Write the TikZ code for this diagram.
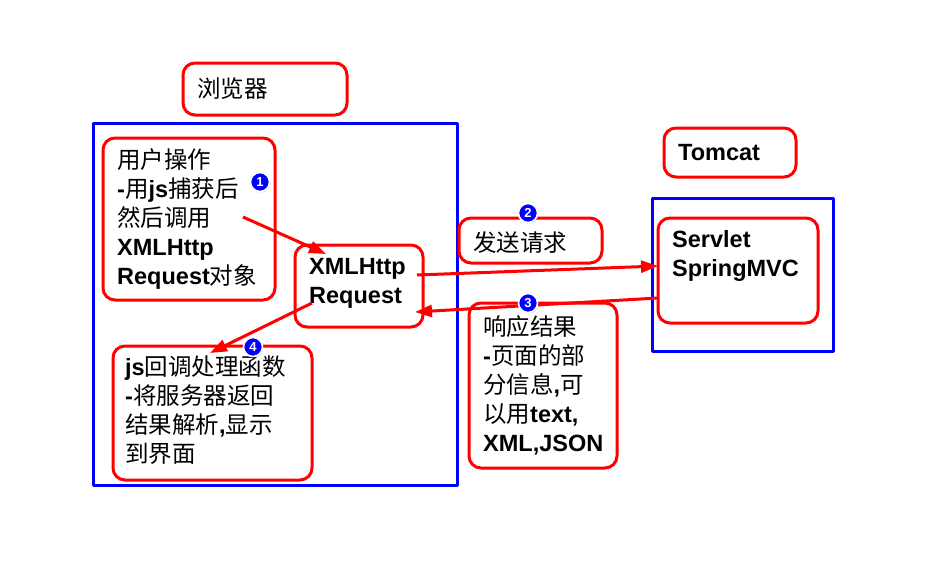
\documentclass[tikz,border=0pt]{standalone}
\usepackage{fontspec}
\setmainfont{Liberation Sans}
\newfontfamily\cjk{Noto Sans CJK SC}
\usetikzlibrary{arrows.meta,shadows}
\definecolor{AjaxRed}{RGB}{255,0,0}
\definecolor{AjaxBlue}{RGB}{0,0,255}
\newcommand\zh[1]{{\cjk\mdseries #1}}
\tikzset{
    ajax/diagram/.style={
        x=1pt, y=-1pt,
        font=\fontsize{23.5}{29}\selectfont\bfseries,
        line join=round
    },
    ajax/frame/.style={
        draw=AjaxBlue, line width=3pt, anchor=north west,
        inner sep=0pt, outer sep=0pt
    },
    ajax/box/.style={
        draw=AjaxRed, line width=3pt, rounded corners=12pt,
        anchor=north west, inner sep=0pt, outer sep=0pt
    },
    % first line is given a fixed height of 22pt: place at baseline - 22
    ajax/text/.style={
        anchor=north west, inner sep=0pt, align=left,
        execute at begin node={\rule{0pt}{22pt}}
    },
    ajax/flow/.style={
        draw=AjaxRed, line width=3pt,
        -{Triangle[length=17pt, width=12pt]}
    },
    ajax/badge/.style={
        circle, fill=AjaxBlue, draw=white, line width=1.6pt,
        minimum size=19pt, inner sep=0pt, text=white,
        font=\fontsize{13}{13}\selectfont\bfseries,
        drop shadow={shadow xshift=1pt, shadow yshift=-1pt, opacity=0.35}
    }
}

\begin{document}
\begin{tikzpicture}[ajax/diagram]
    \useasboundingbox (0,0) rectangle (944,584);
    % browser side
    \node[ajax/box, minimum width=164pt, minimum height=52pt] (browserTitle) at (183,63) {};
    \node[ajax/text] (browserText) at (197,75) {\zh{浏览器}};
    \node[ajax/frame, minimum width=364pt, minimum height=362pt] (browser) at (93,123) {};
    \node[ajax/box, minimum width=172pt, minimum height=162pt] (user) at (103,138) {};
    \node[ajax/text] (userText) at (117,148)
        {\zh{用户操作}\\-\zh{用}js\zh{捕获后}\\\zh{然后调用}\\XMLHttp\\Request\zh{对象}};
    \node[ajax/box, minimum width=128pt, minimum height=82pt] (xhr) at (295,245) {};
    \node[ajax/text] (xhrText) at (309,258) {XMLHttp\\Request};
    \node[ajax/box, minimum width=199pt, minimum height=134pt] (callback) at (113,346) {};
    \node[ajax/text] (callbackText) at (125,356)
        {js\zh{回调处理函数}\\-\zh{将服务器返回}\\\zh{结果解析},\zh{显示}\\\zh{到界面}};
    % between
    \node[ajax/box, minimum width=143pt, minimum height=45pt] (send) at (459,218) {};
    \node[ajax/text] (sendText) at (473,229) {\zh{发送请求}};
    \node[ajax/box, minimum width=148pt, minimum height=165pt] (response) at (469,303) {};
    \node[ajax/text] (responseText) at (483,315)
        {\zh{响应结果}\\-\zh{页面的部}\\\zh{分信息},\zh{可}\\\zh{以用}text,\\XML,JSON};
    % server side
    \node[ajax/box, minimum width=132pt, minimum height=49pt] (tomcatTitle) at (664,128) {};
    \node[ajax/text] (tomcatText) at (678,138) {Tomcat};
    \node[ajax/frame, minimum width=181pt, minimum height=153pt] (tomcat) at (652,198) {};
    \node[ajax/box, minimum width=160pt, minimum height=105pt] (servlet) at (658,218) {};
    \node[ajax/text] (servletText) at (672,230) {Servlet\\SpringMVC};
    % flows
    \coordinate (callStart) at (243,217);
    \coordinate (callEnd) at (326,254);
    \coordinate (sendStart) at (417,275);
    \coordinate (sendEnd) at (658,266);
    \coordinate (replyStart) at (658,298);
    \coordinate (replyEnd) at (415,312);
    \coordinate (backStart) at (312,303);
    \coordinate (backEnd) at (210,353);
    \draw[ajax/flow] (callStart) -- (callEnd);
    \draw[ajax/flow] (sendStart) -- (sendEnd);
    \draw[ajax/flow] (replyStart) -- (replyEnd);
    \draw[ajax/flow] (backStart) -- (backEnd);
    % step badges
    \node[ajax/badge] (stepOne) at (260,182) {1};
    \node[ajax/badge] (stepTwo) at (528,213) {2};
    \node[ajax/badge] (stepThree) at (528,303) {3};
    \node[ajax/badge] (stepFour) at (253,347) {4};
\end{tikzpicture}
\end{document}
